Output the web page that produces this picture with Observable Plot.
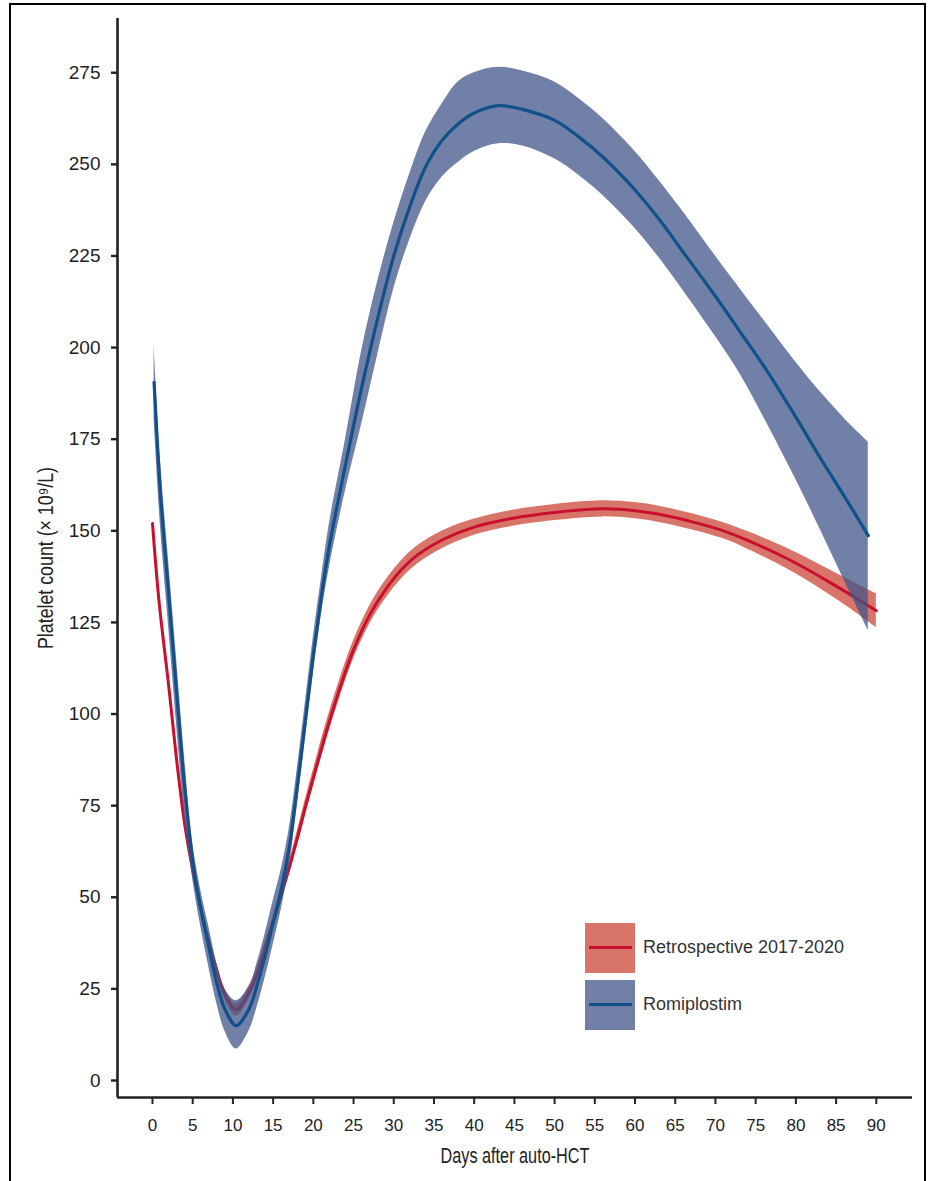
<!DOCTYPE html>
<html>
<head>
<meta charset="utf-8">
<script src="https://cdn.jsdelivr.net/npm/d3@7"></script>
<script src="https://cdn.jsdelivr.net/npm/@observablehq/plot@0.6"></script>
<style>
  html, body { margin: 0; padding: 0; background: #fff; }
  #wrap { position: relative; width: 931px; height: 1181px; overflow: hidden; }
  #border { position: absolute; left: 9px; top: 3px; width: 917px; height: 1200px;
            border: 2px solid #000; box-sizing: border-box; }
  #chart { position: absolute; left: 0; top: 0; }
  .sw { position: absolute; width: 50px; height: 50px; }
  .sw .ln { position: absolute; left: 4px; right: 3px; top: 22.5px; height: 3px; }
  .lab { position: absolute; font-family: "Liberation Sans", Arial, sans-serif; font-size: 18px;
         color: #333; height: 50px; line-height: 50px; white-space: nowrap; }
</style>
</head>
<body>
<div id="wrap">
  <div id="border"></div>
  <div id="chart"></div>
</div>
<script>
// ---- data ----
const xTicks = [0, 5, 10, 15, 20, 25, 30, 35, 40, 45, 50, 55, 60, 65, 70, 75, 80, 85, 90];
const yTicks = [0, 25, 50, 75, 100, 125, 150, 175, 200, 225, 250, 275];
const xDomain = [-4.35, 94.5];
const yDomain = [-4.64, 289.8];

const seriesNames = ["Retrospective 2017-2020", "Romiplostim"];
const seriesLine = ["#c8102e", "#12508a"];
const seriesBand = ["#d97468", "#40568a"];

const retroDays  = [0, 0.8, 2, 3, 4, 5, 6, 7, 8, 9, 10.4, 12, 13, 14, 15, 16, 17, 18, 19, 20, 21, 22, 23, 25, 27, 29, 31, 33, 36, 40, 45, 50, 56, 60, 63, 67, 71, 74, 78, 81, 84, 87, 90];
const retroMean  = [152, 131, 108, 87.5, 70, 57.5, 47, 38, 30, 23.5, 19.3, 24, 29, 36, 43, 50.5, 58, 66, 74.5, 82.5, 90.5, 98, 105, 117.5, 127, 134, 139.5, 143.5, 147.5, 151, 153.5, 155, 156, 155.5, 154.5, 152.5, 150, 147.4, 143.4, 140, 136.2, 132.3, 128.2];
const retroLower = [151, 130, 107, 86.5, 69, 56.5, 45.8, 36.8, 28.5, 22, 17.6, 22.2, 27.2, 34.2, 41.2, 48.7, 56.2, 64, 72.3, 80.3, 88, 95.5, 102.5, 115, 124.5, 131.5, 137, 141, 145.1, 148.8, 151.3, 152.8, 153.8, 153.3, 152.3, 150.3, 147.8, 145, 140.7, 137, 132.8, 128.4, 123.6];
const retroUpper = [153, 132, 109, 88.5, 71, 58.5, 48.2, 39.2, 31.5, 25, 21, 25.8, 30.8, 37.8, 44.8, 52.3, 59.8, 68, 76.7, 84.7, 93, 100.5, 107.5, 120, 129.5, 136.5, 142, 146, 149.9, 153.2, 155.7, 157.2, 158.2, 157.7, 156.7, 154.7, 152.2, 149.8, 146.1, 143, 139.6, 136.2, 132.8];

const romiDays  = [0.2, 1, 2, 3, 4, 5, 6, 7, 8, 9, 10.4, 12, 13, 14, 15, 16, 17, 18, 19, 20, 21, 22, 24, 26, 28, 30, 32, 34, 36, 38, 40, 43, 46, 50, 53, 56, 60, 63, 66, 70, 73, 76, 80, 83, 86, 89];
const romiMean  = [190.5, 160, 133, 106, 80, 60, 47, 36.5, 26.5, 19.5, 15, 19.5, 26, 34, 43, 52, 63.5, 80, 98, 116, 132, 146, 168, 189, 208, 225, 238.5, 249.5, 256.5, 261, 264, 266, 265, 262, 257.5, 252, 243, 235, 226, 214, 204.5, 195, 181, 170, 159.5, 148.7];
const romiLower = [180.5, 151, 124, 97, 72, 55, 42, 31, 21, 13.5, 8.6, 13.5, 20, 28, 37, 46.5, 58.3, 75, 93, 111, 127, 140, 161, 179, 198, 216, 229.5, 240, 246.5, 250.5, 253.5, 255.6, 255, 251.5, 247, 241.5, 232.5, 224.5, 215.5, 203, 193, 181, 164, 150.5, 136.5, 122.8];
const romiUpper = [201, 169, 142, 115, 88, 65, 52, 42, 32, 25, 21.8, 25.5, 32, 40, 49, 57.5, 68.7, 85, 103, 121, 137, 152, 175, 199, 218, 234, 247.5, 259, 266.5, 272.5, 275, 276.5, 275.5, 272.5, 268, 262.5, 253.5, 245.5, 237, 225, 216.2, 207.5, 196, 188, 180.7, 174.2];

const xLabel = "Days after auto-HCT";
const yLabel = "Platelet count (× 10⁹/L)";

// ---- build tables ----
const retro = retroDays.map((d, i) => ({day: d, mean: retroMean[i], lo: retroLower[i], hi: retroUpper[i]}));
const romi  = romiDays.map((d, i) => ({day: d, mean: romiMean[i], lo: romiLower[i], hi: romiUpper[i]}));

const titleFont = "'Liberation Sans', Arial, sans-serif";

const chart = Plot.plot({
  width: 931,
  height: 1181,
  marginLeft: 117,
  marginRight: 19,
  marginTop: 18,
  marginBottom: 84,
  style: {fontFamily: "'Liberation Sans', Arial, sans-serif", color: "#222", background: "transparent", overflow: "visible"},
  x: {domain: xDomain},
  y: {domain: yDomain},
  marks: [
    Plot.areaY(retro, {x: "day", y1: "lo", y2: "hi", fill: seriesBand[0], curve: "catmull-rom"}),
    Plot.lineY(retro, {x: "day", y: "mean", stroke: seriesLine[0], strokeWidth: 3, curve: "catmull-rom"}),
    Plot.areaY(romi, {x: "day", y1: "lo", y2: "hi", fill: seriesBand[1], fillOpacity: 0.75, curve: "catmull-rom"}),
    Plot.lineY(romi, {x: "day", y: "mean", stroke: seriesLine[1], strokeWidth: 3.2, curve: "catmull-rom"}),
    Plot.ruleX([xDomain[0]], {stroke: "#222", strokeWidth: 2.6}),
    Plot.ruleY([yDomain[0]], {stroke: "#222", strokeWidth: 2.6}),
    Plot.axisY({ticks: yTicks, tickSize: 6, tickPadding: 11, strokeWidth: 2.4, stroke: "#222", fontSize: 19, fill: "#222", label: null, tickFormat: d => String(d)}),
    Plot.axisX({ticks: xTicks, tickSize: 7, tickPadding: 14, strokeWidth: 2, stroke: "#222", fontSize: 17, fill: "#222", label: null, tickFormat: d => String(d)}),
    Plot.text([xLabel], {frameAnchor: "bottom", lineAnchor: "middle", textAnchor: "middle", dy: 58, text: d => d, fontSize: 22, fontFamily: titleFont, fill: "#222"}),
    Plot.text([yLabel], {frameAnchor: "left", lineAnchor: "middle", textAnchor: "middle", dx: -72, rotate: -90, text: d => d, fontSize: 22, fontFamily: titleFont, fill: "#222"})
  ]
});
document.getElementById("chart").appendChild(chart);

// condensed look of the axis titles (no condensed face installed)
d3.select(chart).selectAll("text").each(function () {
  const t = this.textContent;
  if (t === xLabel) { this.setAttribute("textLength", 149); this.setAttribute("lengthAdjust", "spacingAndGlyphs"); }
  if (t === yLabel) { this.setAttribute("textLength", 182); this.setAttribute("lengthAdjust", "spacingAndGlyphs"); }
});

// ---- legend (inside the plot area, as in the reference) ----
const wrap = document.getElementById("wrap");
const legendTop = [923, 980];
seriesNames.forEach((name, i) => {
  const sw = document.createElement("div");
  sw.className = "sw";
  sw.style.left = "585px";
  sw.style.top = legendTop[i] + "px";
  sw.style.background = i === 0 ? seriesBand[0] : "#7080a6";
  const ln = document.createElement("div");
  ln.className = "ln";
  ln.style.background = seriesLine[i];
  sw.appendChild(ln);
  wrap.appendChild(sw);
  const lab = document.createElement("div");
  lab.className = "lab";
  lab.style.left = "643px";
  lab.style.top = (legendTop[i] - 1) + "px";
  lab.textContent = name;
  wrap.appendChild(lab);
});
</script>
</body>
</html>
